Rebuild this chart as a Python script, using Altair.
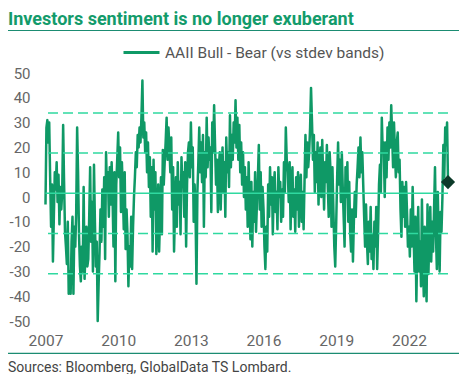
import altair as alt
import pandas as pd
import numpy as np

TITLE = "Investors sentiment is no longer exuberant"
SERIES = "AAII Bull - Bear (vs stdev bands)"
SOURCE = "Sources: Bloomberg, GlobalData TS Lombard."

# AAII bull-minus-bear spread at ~2-week steps per year
v2007 = [-3, 28, 31, 22, 30, 8, -12, 5, -26, -8, 10, 3, 14, -2, 9, -11, 4, -5, 2, 29, 6, -14, -20, -27, -10, -39]
v2008 = [-30, -39, -18, -8, -39, -12, -20, -6, 28, 10, -15, -28, -34, -20, -30, 4, -33, -22, -12, -28, -25, -8, 12, -18, -2, -30]
v2009 = [13, -10, -28, -18, -50, -35, -22, -5, -18, 3, -12, 8, -25, 18, 2, 10, -8, 12, -3, 14, 0, -20, 10, -34, 5, 15]
v2010 = [26, 8, 20, -6, 14, 2, -13, 10, -21, -5, -15, -36, -20, -28, -8, -29, -12, 0, 8, 18, 12, 25, 20, 28, 22, 32]
v2011 = [47, 24, 30, 18, 26, 10, 22, 4, 16, -8, 12, -22, 15, -5, 10, -23, -10, 5, -22, -8, 8, -15, 19, 5, 14, 22]
v2012 = [32, 15, 28, 20, 10, 24, -5, 12, -22, -6, 8, -12, 14, -3, 6, -15, 16, 4, 10, -8, 14, -20, 5, 18, 22, 8]
v2013 = [30, 12, 20, -10, 5, -6, -35, 2, 14, 28, 10, 22, 6, 25, -12, 18, 8, 32, 12, 24, 15, 20, -6, 30, 18, 37]
v2014 = [20, 5, 15, -6, 12, 18, -5, 10, 20, 2, 14, -8, 24, 10, 18, 4, 33, 12, 25, 15, 30, 22, 39, 20, 32, 15]
v2015 = [29, 10, 22, 5, 18, 0, 12, -5, 8, -12, 14, -3, -17, 6, -20, 2, -10, 10, -14, -2, 8, 21, -5, 10, -12, 4]
v2016 = [-5, -20, -29, -12, -22, 5, -8, 12, -3, 8, -15, 4, 10, -6, 2, -13, 12, 0, 6, -10, 3, -8, 14, 2, 28, 15]
v2017 = [10, -2, 14, -13, 5, 12, -8, 3, -14, 8, -5, 10, -12, 4, 9, -10, 2, -13, 6, 25, 8, 22, 12, 18, 28, 44]
v2018 = [30, 15, 25, 2, 18, 6, 22, -3, 12, 20, 0, 23, 8, -5, 14, 6, 21, 4, -8, 18, 10, -12, 12, -5, -20, -28]
v2019 = [-10, 8, 22, 5, 15, -2, 18, 4, -8, -20, 12, 0, 14, -10, 6, -14, -22, -5, -26, -10, 2, -8, 5, 12, 20, 8]
v2020 = [24, 10, 18, 5, -8, -20, -3, -18, -27, -10, -22, -4, -25, -15, -29, -10, -20, -4, -29, -14, 5, 13, 2, 32, 18, 22]
v2021 = [0, 22, 8, 28, 15, 30, 20, 37, 25, 12, 30, 18, 8, 22, 26, 10, 15, -5, -16, 6, -8, 4, -12, 6, -6, -20]
v2022 = [-12, -24, -5, -20, 4, -15, -30, -8, -42, -20, -4, -30, -18, -36, -1, -25, -40, -12, -28, -42, -3, -31, -15, -4, -26, -10]
v2023 = [-22, -5, 12, -15, -29, 2, -18, -30, -6, -14, 0, 21, 8, 28, 21, 30, 6]

yearly = {
    2007: v2007, 2008: v2008, 2009: v2009, 2010: v2010, 2011: v2011, 2012: v2012,
    2013: v2013, 2014: v2014, 2015: v2015, 2016: v2016, 2017: v2017, 2018: v2018,
    2019: v2019, 2020: v2020, 2021: v2021, 2022: v2022, 2023: v2023,
}

# mean and +-1 / +-2 standard deviation bands
mean_level = [1.5]
band_levels = [33.9, 17.7, -14.7, -30.9]

# latest reading (diamond)
last_date = ["2023-08-13"]
last_value = [6]

y_ticks = [-50, -40, -30, -20, -10, 0, 10, 20, 30, 40, 50]
x_tick_years = [2007, 2010, 2013, 2016, 2019, 2022]

LINE = "#0f9966"
BAND = "#2fd9a0"
DARK = "#0c3a29"
TXT = "#666666"
GREEN_T = "#139b6b"
RULE = "#1b8c72"

rows = []
for yr, vals in yearly.items():
    start = pd.Timestamp(f"{yr}-01-01")
    for i, v in enumerate(vals):
        rows.append({"date": start + pd.Timedelta(days=14 * i), "value": v, "series": SERIES})
df = pd.DataFrame(rows)

W, H = 402.5, 248
PL, PT = 37.5, 65

x_scale = alt.Scale(domain=[alt.DateTime(year=2007, month=1, date=1),
                            alt.DateTime(year=2023, month=8, date=13)])
y_scale = alt.Scale(domain=[-50, 50], nice=False, zero=False)

x_axis = alt.Axis(values=[alt.DateTime(year=y, month=1, date=1) for y in x_tick_years],
                  format="%Y", labelPadding=12, labelFontSize=15.5,
                  labelFlush=False, labelOverlap=False)
y_axis = alt.Axis(values=y_ticks, labelPadding=15.5, labelFontSize=15,
                  labelOverlap=False, labelFlush=False,
                  labelExpr="datum.value < 0 ? '-' + abs(datum.value) : '' + datum.value")
x_enc = alt.X("date:T", scale=x_scale, title=None, axis=x_axis)
y_enc = alt.Y("value:Q", scale=y_scale, title=None, axis=y_axis)

line = alt.Chart(df).mark_line(strokeWidth=2.5, strokeJoin="round").encode(
    x=x_enc, y=y_enc,
    color=alt.Color("series:N", scale=alt.Scale(range=[LINE]),
                    legend=alt.Legend(orient="none", legendX=76.5, legendY=-40, title=None,
                                      symbolType="stroke", symbolSize=1296, symbolStrokeWidth=3,
                                      labelFontSize=15.5, labelColor="#555555", labelFont="Roboto",
                                      padding=0, labelOffset=4, labelLimit=400)),
)

bands = alt.Chart(pd.DataFrame({"value": band_levels})).mark_rule(
    color=BAND, strokeWidth=1.5, strokeDash=[10, 5]).encode(y=y_enc)
mean = alt.Chart(pd.DataFrame({"value": mean_level})).mark_rule(
    color=BAND, strokeWidth=1.5).encode(y=y_enc)

diamond = alt.Chart(pd.DataFrame({"date": pd.to_datetime(last_date), "value": last_value})).mark_point(
    shape="diamond", filled=True, size=200, color=DARK, opacity=1).encode(x=x_enc, y=y_enc)

one = pd.DataFrame({"t": [0]})
title = alt.Chart(pd.DataFrame({"t": [TITLE]})).mark_text(
    align="left", baseline="alphabetic", font="Roboto", fontWeight="bold", fontSize=18, color=GREEN_T
).encode(text="t:N", x=alt.value(-PL), y=alt.value(24.5 - 8 - PT))
source = alt.Chart(pd.DataFrame({"t": [SOURCE]})).mark_text(
    align="left", baseline="alphabetic", font="Roboto", fontSize=14, color="#444444"
).encode(text="t:N", x=alt.value(-PL), y=alt.value(372 - 8 - PT))
top_rule = alt.Chart(one).mark_rule(color=RULE, strokeWidth=1.2).encode(
    x=alt.value(-PL), x2=alt.value(459 - 8 - PL), y=alt.value(30.5 - 8 - PT))
bottom_rule = alt.Chart(one).mark_rule(color=RULE, strokeWidth=1.2).encode(
    x=alt.value(-PL), x2=alt.value(459 - 8 - PL), y=alt.value(353.3 - 8 - PT))

chart = alt.layer(line, bands, mean, diamond, title, source, top_rule, bottom_rule).properties(
    width=W, height=H,
    autosize=alt.AutoSizeParams(type="none"),
    padding={"left": PL, "top": PT, "right": 451 - PL - W, "bottom": 366 - PT - H},
).configure_view(stroke=None).configure_axis(
    grid=False, domain=False, ticks=False, tickSize=0,
    labelFont="Roboto", labelColor=TXT,
)

chart.save("out.html", embed_options={"renderer": "svg", "actions": False})
